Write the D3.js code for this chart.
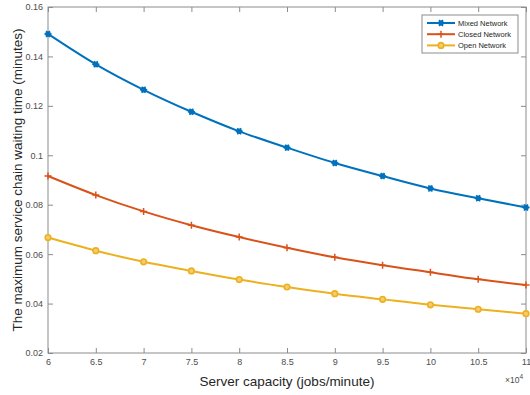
<!DOCTYPE html>
<html lang="en">
  <head>
    <meta charset="UTF-8" />
    <title>Service chain waiting time</title>
    <script src="https://d3js.org/d3.v7.min.js"></script>
    <style>
      body { margin: 0; padding: 0; background: #fff; }
      svg { display: block; font-family: "Liberation Sans", Arial, sans-serif; }
      .tick text { fill: #4d4d4d; font-size: 9px; }
    </style>
  </head>
  <body>
    <svg width="530" height="395"></svg>
    <script>
      const capacity = [6, 6.5, 7, 7.5, 8, 8.5, 9, 9.5, 10, 10.5, 11];
      const mixed = [0.1491, 0.1368, 0.1265, 0.1176, 0.1097, 0.1031, 0.0969, 0.0916, 0.0866, 0.0826, 0.0789];
      const closed = [0.0916, 0.0839, 0.0773, 0.0717, 0.0669, 0.0626, 0.0587, 0.0555, 0.0527, 0.0498, 0.0475];
      const open = [0.0667, 0.0614, 0.0569, 0.0532, 0.0497, 0.0467, 0.044, 0.0417, 0.0395, 0.0377, 0.0359];
      const xTicks = [6, 6.5, 7, 7.5, 8, 8.5, 9, 9.5, 10, 10.5, 11];
      const yTicks = [0.02, 0.04, 0.06, 0.08, 0.1, 0.12, 0.14, 0.16];

      const series = [
        { name: "Mixed Network", values: mixed, color: "#0072BD", marker: "star" },
        { name: "Closed Network", values: closed, color: "#D95319", marker: "plus" },
        { name: "Open Network", values: open, color: "#EDB120", marker: "circle" },
      ];

      const svg = d3.select("svg");
      const plotL = 48, plotR = 526, plotT = 7, plotB = 353;
      const axisColor = "#8c8c8c";

      const x = d3.scaleLinear().domain([6, 11]).range([plotL, plotR]);
      const y = d3.scaleLinear().domain([0.02, 0.16]).range([plotB, plotT]);

      // box
      svg.append("rect")
        .attr("x", plotL).attr("y", plotT)
        .attr("width", plotR - plotL).attr("height", plotB - plotT)
        .attr("fill", "none").attr("stroke", axisColor);

      const fmtY = (d) => d3.format("")(+d.toFixed(2));

      const xAxis = svg.append("g").attr("transform", `translate(0,${plotB})`)
        .call(d3.axisBottom(x).tickValues(xTicks).tickSizeInner(-5).tickSizeOuter(0).tickPadding(6).tickFormat(d3.format("")));
      const xTop = svg.append("g").attr("transform", `translate(0,${plotT})`)
        .call(d3.axisTop(x).tickValues(xTicks).tickSizeInner(-5).tickSizeOuter(0).tickFormat(""));
      const yAxis = svg.append("g").attr("transform", `translate(${plotL},0)`)
        .call(d3.axisLeft(y).tickValues(yTicks).tickSizeInner(-5).tickSizeOuter(0).tickPadding(5).tickFormat(fmtY));
      const yRight = svg.append("g").attr("transform", `translate(${plotR},0)`)
        .call(d3.axisRight(y).tickValues(yTicks).tickSizeInner(-5).tickSizeOuter(0).tickFormat(""));
      [xAxis, xTop, yAxis, yRight].forEach((g) => {
        g.select(".domain").remove();
        g.selectAll(".tick line").attr("stroke", axisColor);
      });

      // axis labels
      svg.append("text")
        .attr("x", 287).attr("y", 386)
        .attr("text-anchor", "middle")
        .attr("font-size", 13.5).attr("fill", "#262626")
        .text("Server capacity (jobs/minute)");
      svg.append("text")
        .attr("transform", "translate(22,180) rotate(-90)")
        .attr("text-anchor", "middle")
        .attr("font-size", 13.5).attr("fill", "#262626")
        .text("The maximum service chain waiting time (minutes)");
      const exp = svg.append("text")
        .attr("x", 505).attr("y", 383)
        .attr("font-size", 8.5).attr("fill", "#4d4d4d");
      exp.append("tspan").text("×10");
      exp.append("tspan").attr("dy", -4).attr("font-size", 6.5).text("4");

      const line = d3.line()
        .x((d, i) => x(capacity[i]))
        .y((d) => y(d))
        .curve(d3.curveMonotoneX);

      function drawMarker(g, m, color, cx, cy) {
        if (m === "star") {
          g.append("circle").attr("cx", cx).attr("cy", cy).attr("r", 2.8).attr("fill", color);
          [0, 60, 120].forEach((a) => {
            const r = (a * Math.PI) / 180, l = 3.6;
            g.append("line")
              .attr("x1", cx - l * Math.cos(r)).attr("y1", cy - l * Math.sin(r))
              .attr("x2", cx + l * Math.cos(r)).attr("y2", cy + l * Math.sin(r))
              .attr("stroke", color).attr("stroke-width", 1.5);
          });
        } else if (m === "plus") {
          g.append("path")
            .attr("d", `M${cx - 3.5},${cy}H${cx + 3.5}M${cx},${cy - 3.5}V${cy + 3.5}`)
            .attr("stroke", color).attr("stroke-width", 1.5);
        } else {
          g.append("circle").attr("cx", cx).attr("cy", cy).attr("r", 2.8)
            .attr("fill", "#f3cc70").attr("stroke", color).attr("stroke-width", 1.6);
        }
      }

      series.forEach((s) => {
        svg.append("path")
          .datum(s.values)
          .attr("d", line)
          .attr("fill", "none")
          .attr("stroke", s.color)
          .attr("stroke-width", 2);
        const g = svg.append("g");
        s.values.forEach((v, i) => drawMarker(g, s.marker, s.color, x(capacity[i]), y(v)));
      });

      // legend
      const lg = svg.append("g").attr("transform", "translate(422,15)");
      lg.append("rect").attr("width", 96).attr("height", 38)
        .attr("fill", "#fff").attr("stroke", axisColor);
      series.forEach((s, i) => {
        const ly = 8 + i * 11.2;
        lg.append("line").attr("x1", 5).attr("x2", 33).attr("y1", ly).attr("y2", ly)
          .attr("stroke", s.color).attr("stroke-width", 2);
        drawMarker(lg, s.marker, s.color, 19, ly);
        lg.append("text").attr("x", 36).attr("y", ly + 3)
          .attr("font-size", 7.5).attr("fill", "#262626").text(s.name);
      });
    </script>
  </body>
</html>
